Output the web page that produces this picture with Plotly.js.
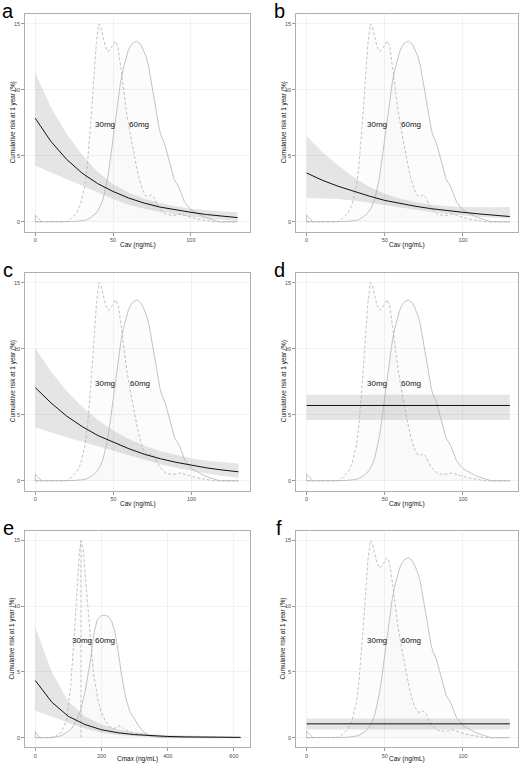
<!DOCTYPE html>
<html>
<head>
<meta charset="utf-8">
<script src="https://cdn.plot.ly/plotly-3.0.1.min.js"></script>
<style>
html,body{margin:0;padding:0;background:#fff;}
#chart{width:522px;height:764px;}
</style>
</head>
<body>
<div id="chart"></div>
<script>
// ---------------- DATA ----------------
const panelLetters = ['a', 'b', 'c', 'd', 'e', 'f'];
const doseLabels = ['30mg', '60mg'];
const yTitle = 'Cumulative risk at 1 year (%)';
const xTitleCav = 'Cav (ng/mL)';
const xTitleCmax = 'Cmax (ng/mL)';
const yTicks = [0, 5, 10, 15];
const cavTicks = [0, 50, 100];
const cmaxTicks = [0, 200, 400, 600];

// Exposure-response curves (Cav)
const cavX = [0, 10, 20, 30, 40, 50, 60, 70, 80, 90, 100, 110, 120, 130];
const riskA = [7.85, 6.1, 4.75, 3.7, 2.9, 2.3, 1.8, 1.42, 1.12, 0.9, 0.72, 0.55, 0.42, 0.32];
const upA   = [11.3, 8.7, 6.7, 5.1, 3.8, 2.85, 2.2, 1.75, 1.42, 1.17, 0.98, 0.87, 0.78, 0.72];
const lowA  = [4.25, 3.75, 3.25, 2.75, 2.2, 1.72, 1.3, 0.98, 0.74, 0.55, 0.38, 0.24, 0.13, 0.06];

const riskB = [3.7, 3.15, 2.7, 2.3, 1.95, 1.62, 1.38, 1.17, 0.99, 0.84, 0.72, 0.6, 0.5, 0.4];
const upB   = [6.5, 5.3, 4.3, 3.4, 2.65, 2.12, 1.75, 1.48, 1.3, 1.18, 1.12, 1.1, 1.11, 1.13];
const lowB  = [1.8, 1.78, 1.72, 1.62, 1.47, 1.28, 1.08, 0.9, 0.74, 0.6, 0.48, 0.38, 0.31, 0.25];

const riskC = [7.05, 5.9, 4.9, 4.1, 3.43, 2.9, 2.42, 2.0, 1.67, 1.4, 1.16, 0.97, 0.81, 0.68];
const upC   = [10.05, 8.3, 6.8, 5.6, 4.6, 3.8, 3.15, 2.65, 2.25, 1.95, 1.7, 1.52, 1.4, 1.3];
const lowC  = [4.03, 3.65, 3.3, 2.95, 2.6, 2.25, 1.9, 1.55, 1.25, 0.98, 0.74, 0.53, 0.36, 0.23];

const flatX = [0, 130];
const riskD = [5.7, 5.7];
const upD   = [6.52, 6.52];
const lowD  = [4.6, 4.6];
const riskF = [1.05, 1.05];
const upF   = [1.45, 1.45];
const lowF  = [0.62, 0.62];

// Exposure-response curve (Cmax)
const cmaxX = [0, 50, 100, 150, 200, 250, 300, 350, 400, 450, 500, 550, 600, 620];
const riskE = [4.35, 2.7, 1.62, 1.0, 0.6, 0.37, 0.23, 0.14, 0.09, 0.06, 0.04, 0.03, 0.02, 0.02];
const upE   = [8.4, 5.0, 2.75, 1.6, 1.0, 0.62, 0.4, 0.27, 0.2, 0.15, 0.12, 0.1, 0.09, 0.09];
const lowE  = [2.05, 1.6, 1.1, 0.7, 0.38, 0.2, 0.11, 0.06, 0.03, 0.02, 0.01, 0.01, 0.0, 0.0];

// Exposure distributions (scaled densities) - Cav
const cav30X = [0, 20, 23, 26.5, 29, 31.8, 33.5, 35, 36.5, 37.7, 39.2, 40.7, 42, 43.5, 45, 46.7, 48.9, 51.4, 53.1, 55.2, 57, 58.4, 60.5, 62.7, 65, 66.9, 69, 71.2, 72.8, 74.4, 76.6, 78, 79.7, 82, 84, 87, 90.4, 93, 96.8, 101, 104, 107.4, 110, 114, 130];
const cav30Y = [0, 0, 0.25, 0.68, 1.3, 2.7, 4.3, 6.4, 8.9, 11.0, 13.5, 15, 14.8, 14.06, 13.3, 12.9, 13.2, 13.7, 13.3, 11.5, 9.8, 8.5, 7.0, 5.5, 4.2, 3.2, 2.4, 1.94, 1.95, 2.05, 1.8, 1.4, 1.06, 0.75, 0.55, 0.5, 0.5, 0.6, 0.45, 0.27, 0.2, 0.15, 0.08, 0, 0];
const cav60X = [0, 18, 25, 30, 32.9, 36, 39.2, 41.5, 43.5, 45, 46.7, 48.3, 49.9, 51.5, 53.1, 54.7, 56.3, 58, 59.5, 61, 62.7, 65.2, 68, 69.5, 71.2, 72.8, 74.4, 76, 77.6, 79.7, 81, 82.9, 84.5, 86.1, 87.7, 89.3, 91, 92.5, 94, 95.7, 98, 100, 102.5, 105.3, 108, 111.7, 115, 118, 130];
const cav60Y = [0, 0, 0.02, 0.08, 0.15, 0.35, 0.68, 1.1, 1.7, 2.5, 3.45, 4.8, 6.2, 7.8, 9.3, 10.5, 11.5, 12.3, 12.9, 13.3, 13.56, 13.7, 13.4, 13.0, 12.5, 11.8, 10.8, 9.7, 8.5, 7.0, 6.5, 6.0, 5.3, 4.5, 3.8, 3.2, 2.9, 2.57, 2.1, 1.56, 1.2, 0.93, 0.75, 0.55, 0.4, 0.23, 0.1, 0, 0];
const cavPboX = [0, 0, 1.5, 4];
const cavPboY = [0, 0.5, 0.32, 0];

// Exposure distributions (scaled densities) - Cmax
const cmax30X = [0, 44.5, 60, 80, 95, 107, 117, 125, 133, 138, 145, 153, 163, 175.6, 190.7, 200, 211, 221, 231, 241, 256, 266, 286.5, 317, 347, 400, 620];
const cmax30Y = [0, 0, 0.1, 0.43, 1.43, 3.95, 7.5, 11, 14, 15, 14.3, 11.75, 8.5, 4.96, 2.7, 1.9, 1.3, 0.95, 0.68, 0.73, 0.93, 0.68, 0.43, 0.3, 0.13, 0.05, 0];
const cmax60X = [0, 50, 75, 90, 110, 122, 135, 150, 165.5, 177.6, 187.6, 195.8, 208, 221, 231, 241, 251, 261, 274, 286.5, 296.6, 311.6, 326.8, 347, 377, 620];
const cmax60Y = [0, 0, 0.13, 0.3, 0.68, 1.2, 1.94, 3.45, 5.7, 8.0, 9.0, 9.23, 9.33, 9.23, 8.85, 8.0, 6.47, 4.7, 2.94, 1.94, 1.56, 0.93, 0.43, 0.13, 0, 0];
const cmaxPboX = [0, 0, 5, 15];
const cmaxPboY = [0, 0.45, 0.25, 0];

// ---------------- LAYOUT HELPERS ----------------
const W = 522, H = 764;
const FONT = 'Liberation Sans, Arial, Helvetica, sans-serif';
const cols = [[25, 250.5], [296, 518]];
const rows = [[14, 231.7], [272.7, 490.7], [530.7, 747.5]];
const xTitleGap = [13.5, 13.5, 11];

const panels = [
  {id: '',  col: 0, row: 0, xr: [-6.6, 138.3], x: cavX,  risk: riskA, up: upA, low: lowA, kind: 'cav'},
  {id: '2', col: 1, row: 0, xr: [-6.8, 135.2], x: cavX,  risk: riskB, up: upB, low: lowB, kind: 'cav'},
  {id: '3', col: 0, row: 1, xr: [-6.6, 137.7], x: cavX,  risk: riskC, up: upC, low: lowC, kind: 'cav'},
  {id: '4', col: 1, row: 1, xr: [-6.8, 135.2], x: flatX, risk: riskD, up: upD, low: lowD, kind: 'cav'},
  {id: '5', col: 0, row: 2, xr: [-31, 650],    x: cmaxX, risk: riskE, up: upE, low: lowE, kind: 'cmax'},
  {id: '6', col: 1, row: 2, xr: [-6.8, 135.2], x: flatX, risk: riskF, up: upF, low: lowF, kind: 'cav'}
];

const traces = [];
const layout = {
  width: W, height: H,
  margin: {l: 0, r: 0, t: 0, b: 0},
  paper_bgcolor: '#ffffff',
  plot_bgcolor: '#ffffff',
  showlegend: false,
  font: {family: FONT, color: '#000'},
  annotations: []
};

const densLine = '#b4b4b4';
const densFill = 'rgba(0,0,0,0.01)';

panels.forEach((p, i) => {
  const xa = 'x' + p.id, ya = 'y' + p.id;
  const xKey = 'xaxis' + p.id, yKey = 'yaxis' + p.id;
  const c = cols[p.col], r = rows[p.row];
  const isCmax = p.kind === 'cmax';

  const axCommon = {
    showgrid: true, gridcolor: '#ededed', gridwidth: 0.7,
    zeroline: false, showline: true, mirror: true,
    linecolor: '#a6a6a6', linewidth: 0.9,
    ticks: 'outside', ticklen: 3, tickwidth: 0.6, tickcolor: '#555',
    tickfont: {family: FONT, size: 5.5, color: '#4d4d4d'},
    fixedrange: true
  };
  layout[xKey] = Object.assign({}, axCommon, {
    domain: [c[0] / W, c[1] / W], range: p.xr, anchor: ya,
    tickmode: 'array', tickvals: isCmax ? cmaxTicks : cavTicks
  });
  layout[yKey] = Object.assign({}, axCommon, {
    domain: [1 - r[1] / H, 1 - r[0] / H], range: [-0.75, 15.75], anchor: xa,
    tickmode: 'array', tickvals: yTicks
  });

  const d30X = isCmax ? cmax30X : cav30X, d30Y = isCmax ? cmax30Y : cav30Y;
  const d60X = isCmax ? cmax60X : cav60X, d60Y = isCmax ? cmax60Y : cav60Y;
  const pbX = isCmax ? cmaxPboX : cavPboX, pbY = isCmax ? cmaxPboY : cavPboY;

  // confidence band
  traces.push({x: p.x, y: p.low, xaxis: xa, yaxis: ya, type: 'scatter', mode: 'lines',
    line: {width: 0, color: 'rgba(0,0,0,0)'}, hoverinfo: 'skip'});
  traces.push({x: p.x, y: p.up, xaxis: xa, yaxis: ya, type: 'scatter', mode: 'lines',
    line: {width: 0, color: 'rgba(0,0,0,0)'}, fill: 'tonexty', fillcolor: 'rgba(0,0,0,0.1)', hoverinfo: 'skip'});

  // densities
  traces.push({x: d30X, y: d30Y, xaxis: xa, yaxis: ya, type: 'scatter', mode: 'lines',
    line: {color: densLine, width: 0.8, dash: '3px,2px'}, fill: 'tozeroy', fillcolor: densFill});
  traces.push({x: d60X, y: d60Y, xaxis: xa, yaxis: ya, type: 'scatter', mode: 'lines',
    line: {color: densLine, width: 0.8}, fill: 'tozeroy', fillcolor: densFill});
  traces.push({x: pbX, y: pbY, xaxis: xa, yaxis: ya, type: 'scatter', mode: 'lines',
    line: {color: densLine, width: 0.8}});

  if (isCmax) {
    // vertical dashed line at the mode of the 30mg distribution
    let k = 0;
    d30Y.forEach((v, j) => { if (v > d30Y[k]) k = j; });
    traces.push({x: [d30X[k], d30X[k]], y: [0, d30Y[k]], xaxis: xa, yaxis: ya, type: 'scatter', mode: 'lines',
      line: {color: densLine, width: 0.8, dash: '3px,2px'}});
  }

  // fitted risk curve
  traces.push({x: p.x, y: p.risk, xaxis: xa, yaxis: ya, type: 'scatter', mode: 'lines',
    line: {color: '#111111', width: 1.0}});

  // dose labels
  const labPos = isCmax ? [[140, 7.4], [211, 7.4]] : [[44.8, 7.4], [66.9, 7.4]];
  doseLabels.forEach((t, j) => {
    layout.annotations.push({text: t, x: labPos[j][0], y: labPos[j][1], xref: xa, yref: ya,
      showarrow: false, xanchor: 'center', yanchor: 'middle',
      font: {family: FONT, size: 8, color: '#111'}});
  });

  // axis titles
  layout.annotations.push({text: isCmax ? xTitleCmax : xTitleCav,
    x: (c[0] + c[1]) / 2 / W, y: 1 - (r[1] + xTitleGap[p.row]) / H, xref: 'paper', yref: 'paper',
    showarrow: false, xanchor: 'center', yanchor: 'middle',
    font: {family: FONT, size: 6.5, color: '#111'}});
  layout.annotations.push({text: yTitle, textangle: -90,
    x: (c[0] - 12.5) / W, y: 1 - (r[0] + r[1]) / 2 / H, xref: 'paper', yref: 'paper',
    showarrow: false, xanchor: 'center', yanchor: 'middle',
    font: {family: FONT, size: 6.4, color: '#111'}});

  // panel letter
  layout.annotations.push({text: panelLetters[i],
    x: (c[0] - 17) / W, y: 1 - (r[0] - 3) / H, xref: 'paper', yref: 'paper',
    showarrow: false, xanchor: 'center', yanchor: 'middle',
    font: {family: FONT, size: 20, color: '#000'}});
});

Plotly.newPlot('chart', traces, layout, {displayModeBar: false, staticPlot: true});
</script>
</body>
</html>
